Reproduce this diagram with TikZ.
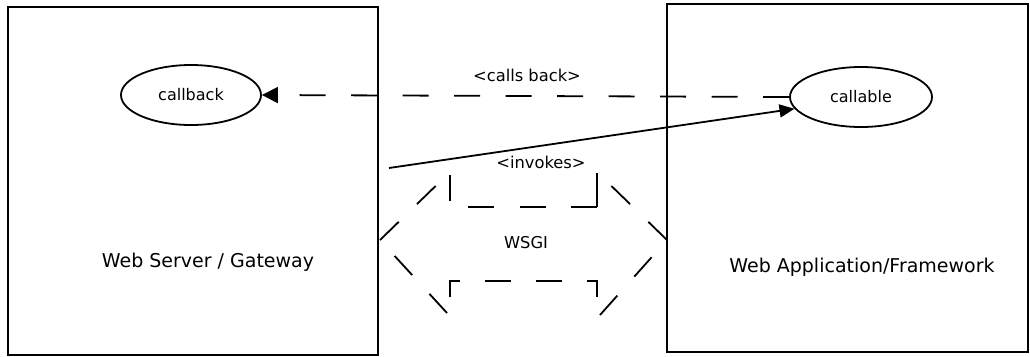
\documentclass[tikz,border=0pt]{standalone}
\usepackage{fontspec}
\setmainfont{DejaVu Sans}
\usetikzlibrary{shapes.geometric,arrows.meta}
\begin{document}
\begin{tikzpicture}[x=1pt,y=-1pt,
  box/.style={draw,line width=1.8pt},
  oval/.style={draw,ellipse,line width=1.8pt,minimum width=140pt,minimum height=60pt,inner sep=0pt,font=\fontsize{16}{19}\selectfont},
  lbl/.style={font=\fontsize{16.3}{19}\selectfont},
  big/.style={font=\fontsize{19}{22}\selectfont},
  ln/.style={line width=1.8pt},
  dsh/.style={ln,dash pattern=on 26pt off 25.5pt}]
\useasboundingbox (0,0) rectangle (1030,356);
\node[box,minimum width=370pt,minimum height=348pt,inner sep=0pt] (srv) at (193,181) {};
\node[box,minimum width=361pt,minimum height=348pt,inner sep=0pt] (app) at (847.5,178) {};
\node[big] (srvt) at (208,262) {Web Server / Gateway};
\node[big] (appt) at (862,267) {Web Application/Framework};
\node[oval] (cb) at (191,95) {callback};
\node[oval,minimum width=142pt] (ca) at (861,97) {callable};
\coordinate (src) at (389,168);
\draw[dsh,-{Triangle[length=16pt,width=16pt]}] (ca.west) -- (cb.east);
\draw[ln,-{Triangle[length=15pt,width=13pt]}] (src) -- (ca.190);
\node[lbl] (cbl) at (527,75) {<calls back>};
\node[lbl] (inl) at (541,162) {<invokes>};
\node[lbl] (wsgi) at (526,243) {WSGI};
% WSGI interface outline (dashed)
\draw[dsh] (380,240) -- (450,172);
\draw[dsh] (450,175) -- (450,207);
\draw[dsh] (597,207) -- (450,207);
\draw[ln] (597,207) -- (597,173);
\draw[dsh] (667,240) -- (597,172);
\draw[dsh] (600,315) -- (667,240);
\draw[dsh,dash pattern=on 26pt off 25pt] (450,297) -- (450,281) -- (597,281) -- (597,297);
\draw[dsh] (447,313) -- (380,240);
\end{tikzpicture}
\end{document}
